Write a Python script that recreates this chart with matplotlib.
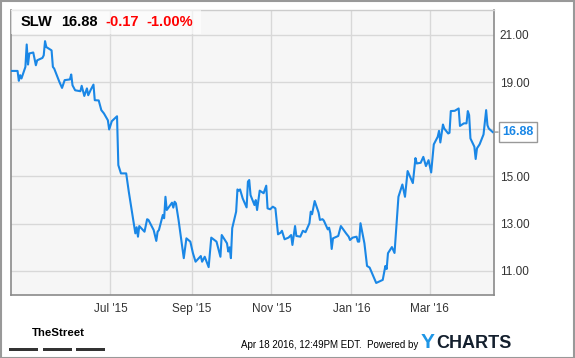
import numpy as np
import matplotlib
matplotlib.use('Agg')
import matplotlib.pyplot as plt
from matplotlib.patches import Rectangle

plt.rcParams['font.family'] = ['Liberation Sans', 'DejaVu Sans']

# SLW daily closes
dates = ['2015-04-16', '2015-04-21', '2015-04-22', '2015-04-23', '2015-04-24', '2015-04-27',
         '2015-04-28', '2015-04-29', '2015-04-30', '2015-05-03', '2015-05-05', '2015-05-06',
         '2015-05-10', '2015-05-11', '2015-05-12', '2015-05-13', '2015-05-17', '2015-05-18',
         '2015-05-19', '2015-05-23', '2015-05-25', '2015-05-27', '2015-05-31', '2015-06-01',
         '2015-06-02', '2015-06-04', '2015-06-08', '2015-06-09', '2015-06-11', '2015-06-13',
         '2015-06-14', '2015-06-16', '2015-06-18', '2015-06-19', '2015-06-22', '2015-06-24',
         '2015-06-26', '2015-06-29', '2015-06-30', '2015-07-02', '2015-07-06', '2015-07-07',
         '2015-07-09', '2015-07-13', '2015-07-15', '2015-07-20', '2015-07-21', '2015-07-22',
         '2015-07-23', '2015-07-27', '2015-07-29', '2015-07-30', '2015-08-03', '2015-08-05',
         '2015-08-06', '2015-08-07', '2015-08-10', '2015-08-11', '2015-08-12', '2015-08-13',
         '2015-08-17', '2015-08-18', '2015-08-19', '2015-08-20', '2015-08-22', '2015-08-26',
         '2015-08-28', '2015-08-31', '2015-09-02', '2015-09-04', '2015-09-08', '2015-09-09',
         '2015-09-11', '2015-09-14', '2015-09-16', '2015-09-20', '2015-09-23', '2015-09-24',
         '2015-09-28', '2015-09-29', '2015-09-30', '2015-10-01', '2015-10-02', '2015-10-05',
         '2015-10-06', '2015-10-07', '2015-10-08', '2015-10-10', '2015-10-13', '2015-10-14',
         '2015-10-15', '2015-10-16', '2015-10-19', '2015-10-20', '2015-10-21', '2015-10-23',
         '2015-10-26', '2015-10-28', '2015-10-29', '2015-10-31', '2015-11-02', '2015-11-04',
         '2015-11-06', '2015-11-08', '2015-11-09', '2015-11-11', '2015-11-14', '2015-11-16',
         '2015-11-17', '2015-11-19', '2015-11-20', '2015-11-23', '2015-11-25', '2015-11-27',
         '2015-11-30', '2015-12-01', '2015-12-02', '2015-12-04', '2015-12-07', '2015-12-08',
         '2015-12-10', '2015-12-11', '2015-12-14', '2015-12-15', '2015-12-16', '2015-12-17',
         '2015-12-18', '2015-12-22', '2015-12-24', '2015-12-28', '2015-12-30', '2015-12-31',
         '2016-01-02', '2016-01-05', '2016-01-06', '2016-01-07', '2016-01-08', '2016-01-11',
         '2016-01-13', '2016-01-15', '2016-01-20', '2016-01-25', '2016-01-27', '2016-01-28',
         '2016-01-29', '2016-02-01', '2016-02-03', '2016-02-06', '2016-02-09', '2016-02-11',
         '2016-02-13', '2016-02-17', '2016-02-19', '2016-02-20', '2016-02-23', '2016-02-25',
         '2016-02-27', '2016-02-29', '2016-03-02', '2016-03-04', '2016-03-07', '2016-03-08',
         '2016-03-09', '2016-03-11', '2016-03-12', '2016-03-15', '2016-03-16', '2016-03-17',
         '2016-03-20', '2016-03-23', '2016-03-24', '2016-03-27', '2016-03-29', '2016-03-30',
         '2016-03-31', '2016-04-01', '2016-04-04', '2016-04-05', '2016-04-06', '2016-04-08',
         '2016-04-11', '2016-04-13', '2016-04-14', '2016-04-15', '2016-04-18']

prices = [19.47, 19.47, 19.05, 19.29, 19.15, 19.64,
          20.59, 19.74, 20.21, 20.25, 19.71, 19.92,
          20.02, 20.13, 20.73, 20.48, 20.34, 19.64,
          19.57, 19.00, 18.75, 19.08, 19.11, 19.32,
          18.86, 18.65, 18.61, 18.84, 18.41, 18.73,
          18.44, 18.68, 18.89, 18.23, 18.22, 17.81,
          17.67, 17.38, 16.99, 17.34, 17.55, 15.48,
          15.13, 15.13, 14.35, 12.59, 12.85, 12.45,
          12.90, 12.66, 13.19, 13.16, 12.73, 12.27,
          12.66, 12.73, 13.37, 13.23, 14.14, 13.58,
          13.89, 13.68, 13.93, 13.86, 13.16, 11.54,
          12.38, 12.24, 11.75, 11.39, 11.63, 11.39,
          11.60, 11.16, 12.41, 12.24, 11.60, 12.52,
          12.17, 11.82, 12.00, 11.54, 12.81, 13.51,
          14.45, 14.40, 14.45, 14.07, 13.69, 14.78,
          14.85, 14.21, 13.79, 14.00, 13.58, 14.40,
          14.29, 14.61, 13.65, 13.61, 13.72, 13.65,
          12.55, 12.62, 12.70, 12.34, 12.41, 12.52,
          12.10, 12.90, 12.48, 12.45, 12.70, 12.64,
          13.02, 13.51, 13.40, 13.96, 13.47, 13.16,
          13.19, 13.13, 12.76, 12.83, 12.59, 11.93,
          12.38, 12.48, 12.90, 12.59, 12.45, 12.31,
          12.41, 12.45, 12.24, 12.24, 13.02, 12.17,
          11.21, 11.14, 10.49, 10.62, 11.21, 11.08,
          11.75, 12.01, 11.76, 14.14, 14.66, 14.14,
          15.23, 14.72, 15.78, 15.55, 15.58, 15.83,
          15.44, 15.69, 15.17, 16.36, 16.68, 16.93,
          16.44, 17.20, 17.03, 16.82, 16.85, 17.77,
          17.78, 17.88, 17.14, 17.25, 17.25, 17.77,
          17.60, 16.61, 16.26, 15.74, 16.19, 16.36,
          16.78, 17.81, 17.17, 17.03, 16.88]

tick_dates = ['2015-07-01', '2015-09-01', '2015-11-01', '2016-01-01', '2016-03-01']
tick_labels = ["Jul '15", "Sep '15", "Nov '15", "Jan '16", "Mar '16"]
y_ticks = [11, 13, 15, 17, 19, 21]

ticker = 'SLW'
last = 16.88
change = '-0.17'
change_pct = '-1.00%'

x = np.array(dates, dtype='datetime64[D]')
y = np.array(prices)

line_col = '#1a87e6'
spine_col = '#8a8a8a'
text_col = '#333333'
ymin, ymax = 9.98, 22.05

fig = plt.figure(figsize=(5.75, 3.58), dpi=100)
ax = fig.add_axes([11/575, 63/358, 483/575, 285/358])
ax.set_facecolor('#f6f6f6')

ax.plot(x, y, color=line_col, linewidth=1.5, zorder=3)

ax.set_xlim(np.datetime64('2015-04-16'), np.datetime64('2016-04-19'))
ax.set_ylim(ymin, ymax)

ax.set_xticks(np.array(tick_dates, dtype='datetime64[D]'))
ax.set_xticklabels(tick_labels)
ax.set_yticks(y_ticks)
# the 17.00 label sits under the last-price box
ax.set_yticklabels(['' if v == 17 else '%.2f' % v for v in y_ticks])
ax.yaxis.tick_right()
ax.tick_params(axis='both', length=0, labelsize=8.5, colors=text_col)
ax.tick_params(axis='y', pad=4)
ax.tick_params(axis='x', pad=6)
ax.grid(True, color='#d8d8d8', linewidth=1)
ax.set_axisbelow(True)

for s in ['left', 'bottom', 'right']:
    ax.spines[s].set_color(spine_col)
    ax.spines[s].set_linewidth(1.2)
ax.spines['top'].set_color('#cccccc')
ax.spines['top'].set_linewidth(1)

# header box with quote
fig.patches.append(Rectangle((11/575, 1 - 34/358), 190/575, 24/358, transform=fig.transFigure,
                             facecolor='white', alpha=0.6, edgecolor='none', zorder=5))
hy = 1 - 22/358
fig.text(21/575, hy, ticker, fontsize=10.5, fontweight='bold', color='black', va='center', zorder=6)
fig.text(61/575, hy, '%.2f' % last, fontsize=10.5, fontweight='bold', color='black', va='center', zorder=6)
fig.text(105/575, hy, change, fontsize=10.5, fontweight='bold', color='#ff0000', va='center', zorder=6)
fig.text(146/575, hy, change_pct, fontsize=10.5, fontweight='bold', color='#ff0000', va='center', zorder=6)

# last price marker
ax.annotate('%.2f' % last, xy=(1.0, (last - ymin) / (ymax - ymin)), xycoords='axes fraction',
            xytext=(6, 0), textcoords='offset points', va='center', ha='left',
            fontsize=9, fontweight='bold', color=line_col, zorder=7,
            bbox=dict(boxstyle='square,pad=0.3', facecolor='white', edgecolor='#999999', linewidth=1),
            arrowprops=dict(arrowstyle='-', color='#999999', linewidth=1, shrinkA=0, shrinkB=0),
            annotation_clip=False)

# footer
fig.text(58/575, 1 - 333/358, 'TheStreet', fontsize=8.2, fontweight='bold', color='black',
         ha='center', va='center')
for bx in [9, 43, 76]:
    fig.patches.append(Rectangle((bx/575, 1 - 351/358), 29/575, 3/358, transform=fig.transFigure,
                                 facecolor='#333333', edgecolor='none'))
fig.text(418/575, 1 - 345/358, 'Apr 18 2016, 12:49PM EDT.  Powered by', fontsize=7.0,
         color='black', ha='right', va='center')
fig.text(421/575, 1 - 343/358, 'Y', fontsize=15, fontweight='bold', color='#1e96e6',
         ha='left', va='center')
fig.text(436/575, 1 - 343/358, 'CHARTS', fontsize=13, fontweight='bold', color='#14202e',
         ha='left', va='center')

# outer frame
fig.patches.append(Rectangle((0.5/575, 0.5/358), 573.5/575, 356.5/358, transform=fig.transFigure,
                             facecolor='none', edgecolor='#999999', linewidth=1.5))

fig.savefig('out.png', dpi=100)
